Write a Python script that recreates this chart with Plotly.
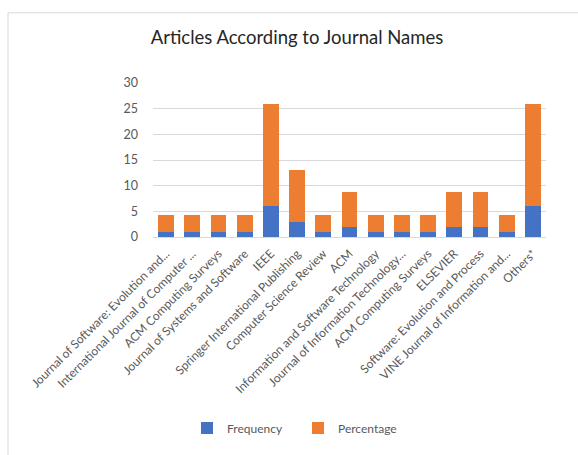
import plotly.graph_objects as go

categories = [
    "Journal of Software: Evolution and...",
    "International Journal of Computer ...",
    "ACM Computing Surveys",
    "Journal of Systems and Software",
    "IEEE",
    "Springer International Publishing",
    "Computer Science Review",
    "ACM",
    "Information and Software Technology",
    "Journal of Information Technology...",
    "ACM Computing Surveys",
    "ELSEVIER",
    "Software: Evolution and Process",
    "VINE Journal of Information and...",
    "Others*",
]
frequency = [1, 1, 1, 1, 6, 3, 1, 2, 1, 1, 1, 2, 2, 1, 6]
percentage = [3.33, 3.33, 3.33, 3.33, 20, 10, 3.33, 6.67, 3.33, 3.33, 3.33, 6.67, 6.67, 3.33, 20]
y_ticks = [0, 5, 10, 15, 20, 25, 30]

positions = list(range(len(categories)))
FONT = "Lato, 'Open Sans', sans-serif"

fig = go.Figure()
fig.add_trace(go.Bar(x=positions, y=frequency, name="Frequency",
                     marker=dict(color="#4472C4", line=dict(width=0))))
fig.add_trace(go.Bar(x=positions, y=percentage, name="Percentage",
                     marker=dict(color="#ED7D31", line=dict(width=0))))

L, R, T, B = 153, 32, 83, 214
W, H = 578, 455
pw, ph = W - L - R, H - T - B

def px_x(p):
    return (p - L) / pw

def px_y(p):
    return (H - B - p) / ph

fig.update_layout(
    width=W, height=H,
    margin=dict(l=L, r=R, t=T, b=B),
    barmode="stack",
    bargap=0.4,
    plot_bgcolor="white",
    paper_bgcolor="white",
    font=dict(family=FONT, color="#595959", size=12),
    title=dict(text="Articles According to Journal Names",
               font=dict(family=FONT, size=18.5, color="#262626"),
               x=px_x(297), xref="paper", xanchor="center",
               y=1 - 38 / H, yref="container", yanchor="middle"),
    xaxis=dict(tickmode="array", tickvals=positions, ticktext=categories,
               tickangle=-45, range=[-0.5, len(categories) - 0.5],
               showgrid=False, showline=True, linecolor="#d9d9d9",
               ticks="", tickfont=dict(size=12, color="#595959"),
               ticklabelstandoff=4, zeroline=False),
    yaxis=dict(range=[0, 30], tickvals=y_ticks, showgrid=True,
               gridcolor="#d9d9d9", zeroline=False, ticks="",
               tickfont=dict(size=12.5, color="#595959"), ticklabelstandoff=14),
    legend=dict(orientation="h", x=px_x(298), xanchor="center",
                y=px_y(437), yanchor="middle",
                font=dict(size=12, color="#595959"),
                entrywidth=66, itemwidth=30,
                traceorder="normal"),
    showlegend=True,
    shapes=[
        dict(type="line", xref="paper", yref="paper",
             x0=px_x(8), x1=px_x(600), y0=px_y(11), y1=px_y(11),
             line=dict(color="#d9d9d9", width=1)),
        dict(type="line", xref="paper", yref="paper",
             x0=px_x(8), x1=px_x(8), y0=px_y(11), y1=px_y(470),
             line=dict(color="#d9d9d9", width=1)),
    ],
)

fig.write_html("out.html")
